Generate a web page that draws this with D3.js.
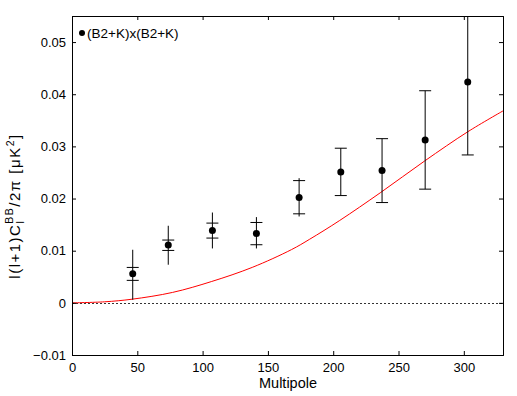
<!DOCTYPE html>
<html>
<head>
<meta charset="utf-8">
<script src="https://cdn.jsdelivr.net/npm/d3@7"></script>
<style>
  body { margin: 0; background: #fff; }
  svg { display: block; font-family: "Liberation Sans", Arial, sans-serif; }
</style>
</head>
<body>
<svg id="chart" width="517" height="396"></svg>
<script>
// multipole bins and measured band powers
const ell = [46.5, 73.7, 107.5, 141.2, 173.9, 205.8, 237.4, 270.4, 303.0];
const power = [0.00559, 0.01108, 0.01388, 0.0133, 0.02019, 0.02511, 0.02536, 0.03123, 0.04233];
// inner errors (drawn with caps)
const capLo = [0.00431, 0.01005, 0.01242, 0.01114, 0.01707, 0.02057, 0.01923, 0.0218, 0.02836];
const capHi = [0.00679, 0.01204, 0.01529, 0.01541, 0.02344, 0.02965, 0.03148, 0.04067, 0.0563];
// outer errors (plain whisker)
const barLo = [0.0006, 0.00731, 0.01043, 0.01043, 0.01656, 0.02057, 0.01923, 0.0218, 0.02836];
const barHi = [0.01018, 0.01478, 0.01732, 0.01644, 0.0239, 0.02965, 0.03148, 0.04067, 0.0563];

// theory curve
const theoryEll = [0, 25, 46, 77, 107, 138, 168, 182, 205, 236, 270, 303, 330];
const theoryVal = [0, 0.0002, 0.0007, 0.002, 0.0041, 0.0068, 0.0102, 0.0122, 0.0158, 0.0211, 0.0272, 0.0328, 0.0368];

const xTicks = [0, 50, 100, 150, 200, 250, 300];
const yTicks = [-0.01, 0, 0.01, 0.02, 0.03, 0.04, 0.05];
const legendLabel = "(B2+K)x(B2+K)";

const margin = { top: 16, right: 14, bottom: 41, left: 72 };
const W = 517, H = 396;
const width = W - margin.left - margin.right;
const height = H - margin.top - margin.bottom;

const svg = d3.select("#chart");
const g = svg.append("g").attr("transform", `translate(${margin.left},${margin.top})`);

const x = d3.scaleLinear().domain([0, 330]).range([0, width]);
const y = d3.scaleLinear().domain([-0.01, 0.055]).range([height, 0]);

svg.append("defs").append("clipPath").attr("id", "clip")
  .append("rect").attr("width", width).attr("height", height);

const plot = g.append("g").attr("clip-path", "url(#clip)");

// zero line
plot.append("line")
  .attr("x1", 0).attr("x2", width)
  .attr("y1", Math.round(y(0)) + 0.5).attr("y2", Math.round(y(0)) + 0.5)
  .attr("stroke", "#000").attr("stroke-width", 0.8)
  .attr("stroke-dasharray", "2,2");

// theory
const line = d3.line()
  .x((d, i) => x(theoryEll[i]))
  .y(d => y(d))
  .curve(d3.curveCatmullRom);

plot.append("path")
  .datum(theoryVal)
  .attr("fill", "none")
  .attr("stroke", "#ff0000")
  .attr("stroke-width", 1)
  .attr("d", line);

// error bars
const pts = ell.map((l, i) => ({ l, v: power[i], cl: capLo[i], ch: capHi[i], bl: barLo[i], bh: barHi[i] }));
const eb = plot.append("g").selectAll("g").data(pts).join("g");

eb.append("line")
  .attr("x1", d => x(d.l)).attr("x2", d => x(d.l))
  .attr("y1", d => y(Math.min(d.bl, d.cl))).attr("y2", d => y(Math.max(d.bh, d.ch)))
  .attr("stroke", "#000").attr("stroke-width", 1);

const capW = 6;
eb.append("line")
  .attr("x1", d => x(d.l) - capW).attr("x2", d => x(d.l) + capW)
  .attr("y1", d => y(d.cl)).attr("y2", d => y(d.cl))
  .attr("stroke", "#000").attr("stroke-width", 1);
eb.append("line")
  .attr("x1", d => x(d.l) - capW).attr("x2", d => x(d.l) + capW)
  .attr("y1", d => y(d.ch)).attr("y2", d => y(d.ch))
  .attr("stroke", "#000").attr("stroke-width", 1);

eb.append("circle")
  .attr("cx", d => x(d.l)).attr("cy", d => y(d.v))
  .attr("r", 3.5).attr("fill", "#000");

// box axes, ticks pointing inward on all sides
const tickLen = 4;
g.append("g")
  .attr("transform", `translate(0,${height})`)
  .call(d3.axisBottom(x).tickValues(xTicks).tickSize(-tickLen).tickPadding(8).tickFormat(d3.format("d")));
g.append("g")
  .call(d3.axisTop(x).tickValues(xTicks).tickSize(-tickLen).tickFormat(""));
g.append("g")
  .call(d3.axisLeft(y).tickValues(yTicks).tickSize(-tickLen).tickPadding(6)
    .tickFormat(d => d === 0 ? "0" : d3.format(".2f")(d)));
g.append("g")
  .attr("transform", `translate(${width},0)`)
  .call(d3.axisRight(y).tickValues(yTicks).tickSize(-tickLen).tickFormat(""));

g.selectAll(".domain").attr("stroke", "#000");
g.selectAll(".tick line").attr("stroke", "#000");
g.selectAll(".tick text")
  .attr("fill", "#000")
  .style("font-size", "13px")
  .style("font-family", "'Liberation Sans', Arial, sans-serif");

// legend
g.append("circle").attr("cx", 10).attr("cy", 17).attr("r", 3).attr("fill", "#000");
g.append("text")
  .attr("x", 15).attr("y", 22)
  .attr("font-size", 13.5)
  .text(legendLabel);

// axis labels
svg.append("text")
  .attr("x", 288).attr("y", 388)
  .attr("text-anchor", "middle")
  .attr("font-size", 14.5)
  .text("Multipole");

const yl = svg.append("text")
  .attr("transform", "translate(20,206) rotate(-90)")
  .attr("text-anchor", "middle")
  .attr("font-size", 15)
  .attr("letter-spacing", 1.5);
yl.append("tspan").text("l(l+1)C");
yl.append("tspan").attr("font-size", 10.5).attr("dy", 4).text("l");
yl.append("tspan").attr("font-size", 10.5).attr("dx", -4).attr("dy", -11).text("BB");
yl.append("tspan").attr("dy", 7).text("/2π [μK");
yl.append("tspan").attr("font-size", 10.5).attr("dy", -6).text("2");
yl.append("tspan").attr("dy", 6).text("]");
</script>
</body>
</html>
